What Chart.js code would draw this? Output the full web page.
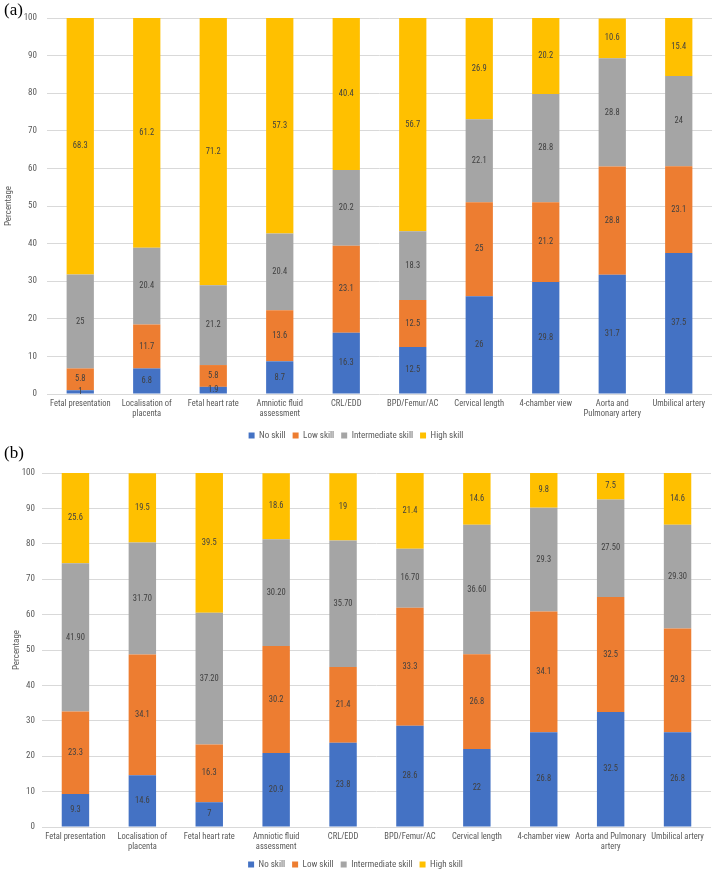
<!DOCTYPE html>
<html>
<head>
<meta charset="utf-8">
<script src="https://cdn.jsdelivr.net/npm/chart.js@4/dist/chart.umd.min.js"></script>
<style>
  body { margin: 0; background: #fff; width: 722px; height: 876px; position: relative; overflow: hidden; }
  .panel { position: absolute; left: 0; width: 722px; }
  .tag { position: absolute; left: 4px; font-family: "Liberation Serif", serif; font-size: 17px; color: #000; z-index: 2; }
</style>
</head>
<body>
<div class="tag" style="top:0px">(a)</div>
<div class="tag" style="top:443px">(b)</div>
<div class="panel" style="top:0;height:450px"><canvas id="chartA" width="722" height="450"></canvas></div>
<div class="panel" style="top:442px;height:437px"><canvas id="chartB" width="722" height="437"></canvas></div>
<script>
// categories
const labelsA = ["Fetal presentation", ["Localisation of", "placenta"], "Fetal heart rate",
  ["Amniotic fluid", "assessment"], "CRL/EDD", "BPD/Femur/AC", "Cervical length",
  "4-chamber view", ["Aorta and", "Pulmonary artery"], "Umbilical artery"];
const labelsB = ["Fetal presentation", ["Localisation of", "placenta"], "Fetal heart rate",
  ["Amniotic fluid", "assessment"], "CRL/EDD", "BPD/Femur/AC", "Cervical length",
  "4-chamber view", ["Aorta and Pulmonary", "artery"], "Umbilical artery"];

const seriesNames = ["No skill", "Low skill", "Intermediate skill", "High skill"];
const seriesColors = ["#4472C4", "#ED7D31", "#A5A5A5", "#FFC000"];

// (a)
const noSkillA = [1, 6.8, 1.9, 8.7, 16.3, 12.5, 26, 29.8, 31.7, 37.5];
const lowSkillA = [5.8, 11.7, 5.8, 13.6, 23.1, 12.5, 25, 21.2, 28.8, 23.1];
const interSkillA = [25, 20.4, 21.2, 20.4, 20.2, 18.3, 22.1, 28.8, 28.8, 24];
const highSkillA = [68.3, 61.2, 71.2, 57.3, 40.4, 56.7, 26.9, 20.2, 10.6, 15.4];

// (b)
const noSkillB = [9.3, 14.6, 7, 20.9, 23.8, 28.6, 22, 26.8, 32.5, 26.8];
const lowSkillB = [23.3, 34.1, 16.3, 30.2, 21.4, 33.3, 26.8, 34.1, 32.5, 29.3];
const interSkillB = [41.9, 31.7, 37.2, 30.2, 35.7, 16.7, 36.6, 29.3, 27.5, 29.3];
const highSkillB = [25.6, 19.5, 39.5, 18.6, 19, 21.4, 14.6, 9.8, 7.5, 14.6];
// as printed on the bars in (b)
const interSkillBText = ["41.90", "31.70", "37.20", "30.20", "35.70", "16.70", "36.60", "29.3", "27.50", "29.30"];

const yTicks = [0, 10, 20, 30, 40, 50, 60, 70, 80, 90, 100];

const FONT = "'Liberation Sans Narrow', 'Roboto Condensed', 'Liberation Sans', Arial, sans-serif";

// simple data-label plugin: writes each value in the middle of its segment
const barValues = {
  id: "barValues",
  afterDatasetsDraw(chart) {
    const ctx = chart.ctx;
    ctx.save();
    ctx.font = "8.5px " + FONT;
    ctx.fillStyle = "#404040";
    ctx.textAlign = "center";
    ctx.textBaseline = "middle";
    chart.data.datasets.forEach((ds, i) => {
      const meta = chart.getDatasetMeta(i);
      meta.data.forEach((bar, j) => {
        const p = bar.getProps(["x", "y", "base"], true);
        const txt = ds.valueText ? ds.valueText[j] : String(ds.data[j]);
        ctx.fillText(txt, p.x, (p.y + p.base) / 2);
      });
    });
    ctx.restore();
  }
};

function makeChart(id, labels, series, texts, o) {
  const datasets = series.map((data, i) => ({
    label: seriesNames[i],
    data: data,
    backgroundColor: seriesColors[i],
    borderWidth: 0,
    barPercentage: 0.41,
    categoryPercentage: 1,
    valueText: texts[i]
  }));
  return new Chart(document.getElementById(id), {
    type: "bar",
    data: { labels: labels, datasets: datasets },
    plugins: [barValues],
    options: {
      responsive: false,
      animation: false,
      layout: { padding: { top: o.top, right: o.right, left: 0, bottom: 0 } },
      plugins: {
        tooltip: { enabled: false },
        legend: {
          position: "bottom",
          labels: { boxWidth: 6, boxHeight: 6, padding: 7, color: "#595959", font: { family: FONT, size: 9 } }
        }
      },
      scales: {
        x: {
          stacked: true,
          grid: { display: false, drawTicks: false },
          border: { display: false },
          ticks: { color: "#595959", font: { family: FONT, size: 8.5 }, maxRotation: 0, autoSkip: false, padding: 5 },
          afterFit(s) { s.height = o.xHeight; }
        },
        y: {
          stacked: true,
          min: 0, max: 100,
          afterBuildTicks(s) { s.ticks = yTicks.map(v => ({ value: v })); },
          grid: { color: "#D9D9D9", drawTicks: false, lineWidth: 1 },
          border: { display: false },
          ticks: { color: "#595959", font: { family: FONT, size: 9 }, padding: o.tickPad },
          title: { display: true, text: "Percentage", color: "#595959", font: { family: FONT, size: 9 }, padding: { top: o.titlePad, bottom: 4 } },
          afterFit(s) { s.width = o.yWidth; }
        }
      }
    }
  });
}

makeChart("chartA", labelsA, [noSkillA, lowSkillA, interSkillA, highSkillA], [null, null, null, null],
  { top: 18, right: 10, xHeight: 30, yWidth: 47, tickPad: 10, titlePad: 3 });
makeChart("chartB", labelsB, [noSkillB, lowSkillB, interSkillB, highSkillB], [null, null, interSkillBText, null],
  { top: 31, right: 11, xHeight: 26, yWidth: 42, tickPad: 7, titlePad: 11 });
</script>
</body>
</html>
